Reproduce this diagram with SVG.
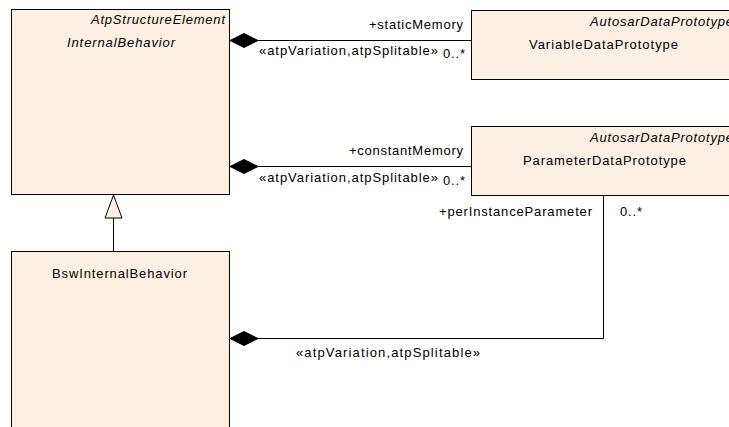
<svg xmlns="http://www.w3.org/2000/svg" width="729" height="427" viewBox="0 0 729 427">
<style>
.box{fill:#FBF0E2;stroke:#000;stroke-width:1}
.ln{fill:none;stroke:#000;stroke-width:1}
.dia{fill:#000;stroke:#000;stroke-width:1}
text{font-family:"Liberation Sans",Arial,sans-serif;font-size:13px;fill:#000}
.it{font-style:italic}
</style>
<rect x="0" y="0" width="729" height="427" fill="#fff"/>
<g id="InternalBehavior">
<rect class="box" x="11.5" y="9.5" width="218" height="185"/>
<text class="it" x="91" y="24" textLength="134" lengthAdjust="spacing">AtpStructureElement</text>
<text class="it" x="67" y="47" textLength="108" lengthAdjust="spacing">InternalBehavior</text>
</g>
<g id="VariableDataPrototype">
<rect class="box" x="471.5" y="10.5" width="270" height="69"/>
<text class="it" x="590" y="26" textLength="143" lengthAdjust="spacing">AutosarDataPrototype</text>
<text x="529" y="49" textLength="149" lengthAdjust="spacing">VariableDataPrototype</text>
</g>
<g id="ParameterDataPrototype">
<rect class="box" x="471.5" y="126.5" width="270" height="69"/>
<text class="it" x="590" y="142" textLength="143" lengthAdjust="spacing">AutosarDataPrototype</text>
<text x="523" y="165" textLength="163" lengthAdjust="spacing">ParameterDataPrototype</text>
</g>
<g id="BswInternalBehavior">
<rect class="box" x="11.5" y="251.5" width="218" height="200"/>
<text x="52" y="278" textLength="135" lengthAdjust="spacing">BswInternalBehavior</text>
</g>
<g id="connectors">
<line class="ln" x1="258" y1="40.5" x2="471" y2="40.5"/>
<polygon class="dia" points="230,40.5 244,33.5 258,40.5 244,47.5"/>
<text x="369" y="29" textLength="94" lengthAdjust="spacing">+staticMemory</text>
<text x="259" y="55" textLength="179" lengthAdjust="spacing">«atpVariation,atpSplitable»</text>
<text x="443" y="58" textLength="22" lengthAdjust="spacing">0..*</text>

<line class="ln" x1="258" y1="166.5" x2="471" y2="166.5"/>
<polygon class="dia" points="230,166.5 244,159.5 258,166.5 244,173.5"/>
<text x="349" y="155" textLength="114" lengthAdjust="spacing">+constantMemory</text>
<text x="259" y="182" textLength="179" lengthAdjust="spacing">«atpVariation,atpSplitable»</text>
<text x="443" y="185" textLength="22" lengthAdjust="spacing">0..*</text>

<polyline class="ln" points="603.5,195.5 603.5,338.5 258,338.5"/>
<polygon class="dia" points="230,338.5 244,331.5 258,338.5 244,345.5"/>
<text x="439" y="216" textLength="153" lengthAdjust="spacing">+perInstanceParameter</text>
<text x="620" y="216" textLength="22" lengthAdjust="spacing">0..*</text>
<text x="296" y="357" textLength="184" lengthAdjust="spacing">«atpVariation,atpSplitable»</text>

<line class="ln" x1="113.5" y1="218" x2="113.5" y2="251.5"/>
<polygon class="box" points="113.5,195 105,218 122,218"/>
</g>
</svg>
